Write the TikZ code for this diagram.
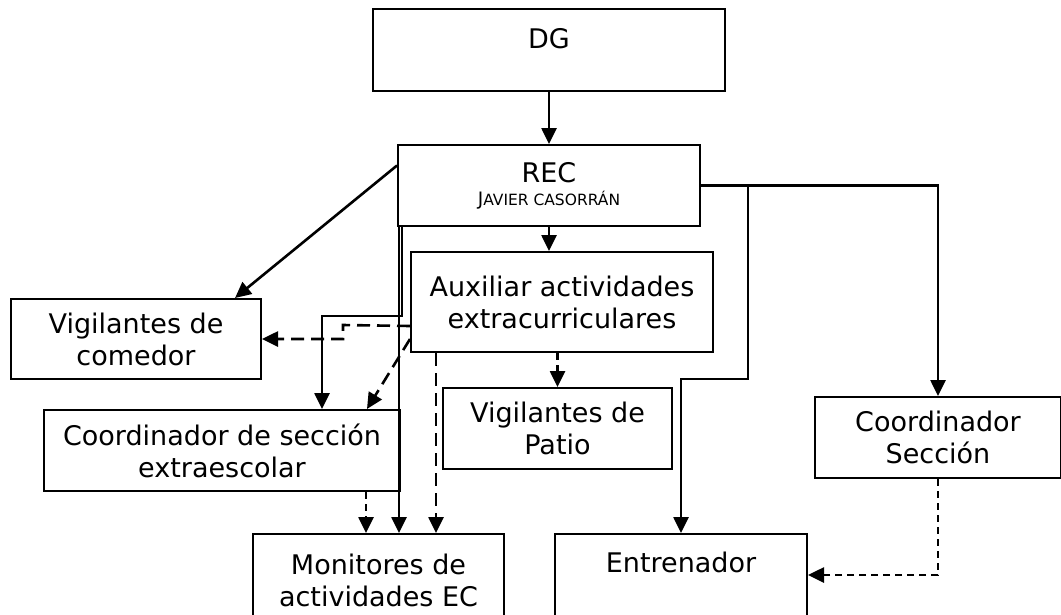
\documentclass[tikz,border=0pt]{standalone}
\usepackage{fontspec}
\setmainfont{DejaVu Sans}
\usetikzlibrary{arrows.meta}

\tikzset{
	box/.style={draw, line width=2pt, inner sep=0pt, align=center, anchor=north west, font=\fontsize{27}{32}\selectfont},
	link/.style={line width=2.6pt, -{Triangle[length=16pt, width=15pt]}},
	longdash/.style={dash pattern=on 13pt off 7pt},
	shortdash/.style={dash pattern=on 7pt off 5pt}
}

\begin{document}
\begin{tikzpicture}[x=1pt, y=-1pt]

		\clip (0, 0) rectangle (1061, 614);

				\node [box, minimum width=352pt, text height=39pt, text depth=43pt] (dg) at (372, 8) {DG};
				\node [box, minimum width=302pt, minimum height=81pt] (rec) at (397, 144) {REC\\[-9pt]{\fontsize{18.5}{20}\selectfont J}{\fontsize{15.5}{20}\selectfont AVIER CASORRÁN}};
				\node [box, minimum width=302pt, minimum height=100pt] (aux) at (410, 251) {Auxiliar actividades\\extracurriculares};
				\node [box, minimum width=250pt, minimum height=80pt] (comedor) at (10, 298) {Vigilantes de\\comedor};
				\node [box, minimum width=356pt, minimum height=81pt] (coordext) at (43, 409) {Coordinador de sección\\extraescolar};
				\node [box, minimum width=229pt, minimum height=81pt] (patio) at (442, 387) {Vigilantes de\\Patio};
				\node [box, minimum width=246pt, minimum height=81pt] (coordsec) at (814, 396) {Coordinador\\Sección};
				\node [box, minimum width=251pt, minimum height=92pt] (monit) at (252, 533) {Monitores de\\actividades EC};
				\node [box, minimum width=252pt, text height=38pt, text depth=62pt] (entren) at (554, 533) {Entrenador};

				\coordinate (bendA) at (322, 316);
				\coordinate (bendB) at (343, 325);
				\coordinate (bendC) at (748, 379);

				\draw [link] (dg.south) -- (rec.north);
				\draw [link] (rec.south) -- (rec.south |- aux.north);
				\draw [link] ([yshift=20pt]rec.west) -- ([xshift=-27pt]comedor.north east);
				\draw [link] ([xshift=5pt]rec.south west) |- (bendA) -- (bendA |- coordext.north);
				\draw [link] ([xshift=2pt]rec.south west) -- ([xshift=2pt]rec.south west |- monit.north);
				\draw [link] (rec.east) -| (bendC) -| (entren.north);
				\draw [link] (rec.east) -| (coordsec.north);

				\draw [link, longdash] ([yshift=-24pt]aux.west) -- (bendB) |- (comedor.east);
				\draw [link, longdash] ([yshift=-37pt]aux.west) -- ([xshift=-34pt]coordext.north east);
				\draw [link, longdash] ([xshift=26pt]aux.south west) -- ([xshift=26pt]aux.south west |- monit.north);
				\draw [link, shortdash] (aux.south -| patio.north) -- (patio.north);
				\draw [link, shortdash] ([xshift=-35pt]coordext.south east) -- ([xshift=-35pt]coordext.south east |- monit.north);
				\draw [link, shortdash] (coordsec.south) |- ([yshift=9pt]entren.east);

		\end{tikzpicture}
\end{document}
